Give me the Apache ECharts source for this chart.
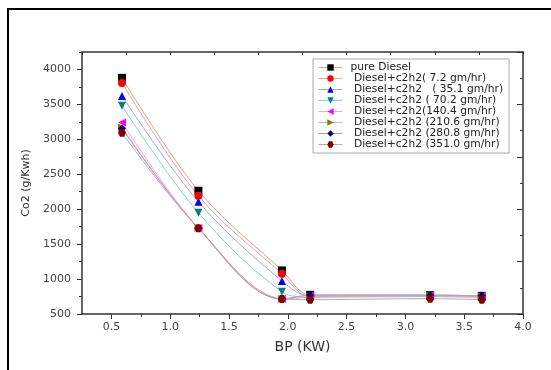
<!DOCTYPE html>
<html>
<head>
<meta charset="utf-8">
<script src="https://cdn.jsdelivr.net/npm/echarts@6/dist/echarts.min.js"></script>
<style>
  html, body { margin: 0; padding: 0; background: #fff; }
  #chart { width: 551px; height: 370px; }
</style>
</head>
<body>
<div id="chart"></div>
<script>
// brake power (KW)
const bp = [0.59, 1.24, 1.95, 2.19, 3.21, 3.65];

const seriesNames = [
  'pure Diesel',
  ' Diesel+c2h2( 7.2 gm/hr)',
  ' Diesel+c2h2   ( 35.1 gm/hr)',
  ' Diesel+c2h2 ( 70.2 gm/hr)',
  ' Diesel+c2h2(140.4 gm/hr)',
  ' Diesel+c2h2 (210.6 gm/hr)',
  ' Diesel+c2h2 (280.8 gm/hr)',
  ' Diesel+c2h2 (351.0 gm/hr)'
];

// CO2 (g/Kwh)
const pureDiesel = [3880, 2264, 1124, 775, 770, 760];
const c2h2_7 = [3808, 2192, 1077, 750, 750, 740];
const c2h2_35 = [3622, 2106, 973, 760, 760, 750];
const c2h2_70 = [3480, 1949, 820, 740, 750, 740];
const c2h2_140 = [3242, 1730, 716, 760, 770, 760];
const c2h2_210 = [3170, 1730, 716, 740, 760, 750];
const c2h2_280 = [3156, 1726, 716, 770, 770, 760];
const c2h2_351 = [3093, 1726, 716, 705, 720, 705];

const xMajor = [0.5, 1.0, 1.5, 2.0, 2.5, 3.0, 3.5, 4.0];
const xMinor = [0.75, 1.25, 1.75, 2.25, 2.75, 3.25, 3.75];
const yMajor = [500, 1000, 1500, 2000, 2500, 3000, 3500, 4000];
const yMinor = [750, 1250, 1750, 2250, 2750, 3250, 3750, 4250];

const allData = [pureDiesel, c2h2_7, c2h2_35, c2h2_70, c2h2_140, c2h2_210, c2h2_280, c2h2_351];
const colors = ['#000000', '#ff0000', '#0000ff', '#008080', '#ff00ff', '#808000', '#000080', '#800000'];
const lineColors = ['#c8a898', '#f0a0a0', '#a0a8f0', '#90d0d0', '#e8a8e8', '#c8b8a0', '#a8a0c8', '#c8a0b0'];
const symbols = ['rect', 'circle', 'triangle', 'path://M0,0 L10,0 L5,9 Z',
  'path://M9,0 L9,10 L0,5 Z', 'path://M0,0 L0,10 L9,5 Z', 'diamond',
  'path://M3,0 L9,0 L12,5 L9,10 L3,10 L0,5 Z'];

const font = 'DejaVu Sans';
const axisColor = '#333';

const chart = echarts.init(document.getElementById('chart'));

chart.setOption({
  animation: false,
  backgroundColor: '#fff',
  textStyle: {fontFamily: font},
  grid: {left: 82, right: 28, top: 52, bottom: 56, containLabel: false, outerBoundsMode: 'none'},
  graphic: [{
    type: 'rect',
    shape: {x: 8, y: 9, width: 600, height: 400},
    style: {fill: 'none', stroke: '#000', lineWidth: 2},
    silent: true
  }],
  legend: {
    left: 313,
    top: 59,
    orient: 'vertical',
    itemWidth: 24,
    itemHeight: 8,
    itemGap: 0,
    padding: [3, 6, 3, 5],
    backgroundColor: '#fff',
    borderColor: '#aaa',
    borderWidth: 1,
    borderRadius: 0,
    lineStyle: {width: 1, opacity: 1},
    textStyle: {fontFamily: font, fontSize: 10.7, color: '#222', lineHeight: 11, padding: [0, 0, 0, 3]},
    data: seriesNames
  },
  xAxis: [
    {
      type: 'value', position: 'bottom', min: 0.25, max: 4.0, interval: 0.25,
      name: 'BP (KW)', nameLocation: 'middle', nameGap: 26,
      nameTextStyle: {fontFamily: font, fontSize: 14, color: '#333'},
      axisLine: {show: true, lineStyle: {color: axisColor, width: 1.5}},
      axisTick: {show: true, length: 5, customValues: xMajor, lineStyle: {color: axisColor}},
      axisLabel: {customValues: xMajor, margin: 8, fontSize: 11, color: '#444',
        formatter: v => v.toFixed(1)},
      splitLine: {show: false}
    },
    {
      type: 'value', position: 'bottom', min: 0.25, max: 4.0, interval: 0.25,
      axisLine: {show: false},
      axisTick: {show: true, length: 3, customValues: xMinor, lineStyle: {color: axisColor}},
      axisLabel: {show: false},
      splitLine: {show: false}
    },
    {
      type: 'value', position: 'top', min: 0, max: 10, interval: 1,
      axisLine: {show: true, lineStyle: {color: axisColor, width: 1.5}},
      axisTick: {show: true, inside: true, length: 3, lineStyle: {color: axisColor}},
      axisLabel: {show: false},
      splitLine: {show: false}
    }
  ],
  yAxis: [
    {
      type: 'value', position: 'left', min: 500, max: 4250, interval: 250,
      name: 'Co2 (g/Kwh)', nameLocation: 'middle', nameGap: 50, nameRotate: 90,
      nameTextStyle: {fontFamily: font, fontSize: 11, color: '#333'},
      axisLine: {show: true, lineStyle: {color: axisColor, width: 1.5}},
      axisTick: {show: true, length: 5, customValues: yMajor, lineStyle: {color: axisColor}},
      axisLabel: {customValues: yMajor, margin: 11, fontSize: 11, color: '#444',
        formatter: v => String(v)},
      splitLine: {show: false}
    },
    {
      type: 'value', position: 'left', min: 500, max: 4250, interval: 250,
      axisLine: {show: false},
      axisTick: {show: true, length: 3, customValues: yMinor, lineStyle: {color: axisColor}},
      axisLabel: {show: false},
      splitLine: {show: false}
    },
    {
      type: 'value', position: 'right', min: 0, max: 10, interval: 2,
      axisLine: {show: true, lineStyle: {color: axisColor, width: 1.5}},
      axisTick: {show: true, inside: true, length: 6, lineStyle: {color: axisColor}},
      minorTick: {show: true, splitNumber: 2, length: 3, lineStyle: {color: axisColor}},
      axisLabel: {show: false},
      splitLine: {show: false}
    }
  ],
  series: allData.map((vals, i) => ({
    name: seriesNames[i],
    type: 'line',
    xAxisIndex: 0,
    yAxisIndex: 0,
    data: bp.map((x, j) => [x, vals[j]]),
    smooth: 0.35,
    symbol: symbols[i],
    symbolSize: 8,
    itemStyle: {color: colors[i], opacity: 1},
    lineStyle: {color: lineColors[i], width: 1},
    emphasis: {disabled: true}
  }))
});
</script>
</body>
</html>
